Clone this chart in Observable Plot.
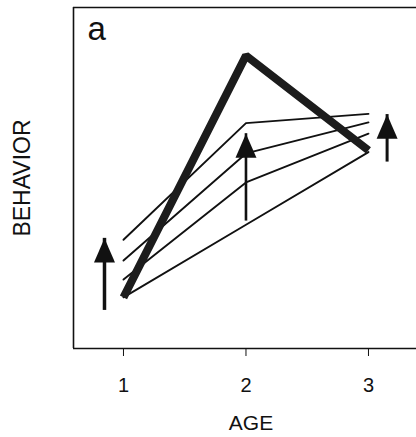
<!DOCTYPE html>
<html>
<head>
<meta charset="utf-8">
<script src="https://cdn.jsdelivr.net/npm/d3@7"></script>
<script src="https://cdn.jsdelivr.net/npm/@observablehq/plot@0.6"></script>
<style>
  html, body { margin: 0; padding: 0; background: #fff; }
  svg { display: block; }
</style>
</head>
<body>
<div id="chart"></div>
<script>
// Ages (x categories)
const ages = [1, 2, 3];
const ageTicks = [1, 2, 3];
const ageTickLabels = ["1", "2", "3"];

// Highlighted trajectory (thick line)
const thickSeries = [15.0, 85.9, 58.1];

// Thin trajectories
const thin1 = [31.9, 66.1, 68.8];
const thin2 = [25.8, 57.2, 66.3];
const thin3 = [20.2, 48.7, 63.0];
const thin4 = [15.0, 36.3, 57.6];

// Arrows: x position, base value, tip value
const arrowX = [0.845, 2, 3.152];
const arrowBase = [14.1, 40.3, 57.6];
const arrowTip = [32.3, 63.0, 68.6];
const arrowShaft = [3.5, 2.6, 3];

// Text
const panelLabel = "a";
const xLabel = "AGE";
const yLabel = "BEHAVIOR";

const thinRows = [];
[thin1, thin2, thin3, thin4].forEach((s, i) =>
  s.forEach((v, j) => thinRows.push({id: i, age: ages[j], value: v})));
const thickRows = thickSeries.map((v, j) => ({age: ages[j], value: v}));
const arrows = arrowX.map((x, i) => ({x, base: arrowBase[i], tip: arrowTip[i], w: arrowShaft[i]}));
const tickRows = ageTicks.map((t, i) => ({t, label: ageTickLabels[i]}));

// Filled arrow head, tip at the anchor point, pointing up
const arrowHead = {
  draw(ctx, size) {
    const k = Math.sqrt(size / Math.PI);
    ctx.moveTo(0, 0);
    ctx.lineTo(-k, 2.3 * k);
    ctx.lineTo(k, 2.3 * k);
    ctx.closePath();
  }
};

const xDomain = [0.592, 3.392];
const yDomain = [0, 100];

const chart = Plot.plot({
  width: 416,
  height: 437,
  marginLeft: 73,
  marginRight: 0,
  marginTop: 7,
  marginBottom: 89,
  style: {fontFamily: "'Liberation Sans', Arial, Helvetica, sans-serif", background: "#fff", color: "#111"},
  x: {domain: xDomain},
  y: {domain: yDomain},
  marks: [
    // frame: left, top, bottom
    Plot.ruleX([xDomain[0]], {stroke: "#111", strokeWidth: 1.6}),
    Plot.ruleY([yDomain[0], yDomain[1]], {stroke: "#111", strokeWidth: 1.6}),
    Plot.axisX({ticks: ageTicks, tickSize: 8, text: null, label: null, stroke: "#111"}),
    Plot.text(tickRows, {x: "t", text: "label", frameAnchor: "bottom", dy: 37, lineAnchor: "middle", fontSize: 20, fill: "#111"}),
    Plot.axisY({ticks: [], label: null}),
    Plot.line(thinRows, {x: "age", y: "value", z: "id", stroke: "#111", strokeWidth: 1.9, strokeLinejoin: "miter"}),
    Plot.line(thickRows, {x: "age", y: "value", stroke: "#1c1c1c", strokeWidth: 8, strokeLinejoin: "miter", strokeLinecap: "butt"}),
    Plot.ruleX(arrows, {x: "x", y1: "base", y2: "tip", strokeWidth: "w", stroke: "#111", insetTop: 10}),
    Plot.dot(arrows, {x: "x", y: "tip", symbol: arrowHead, r: 10.5, fill: "#111", stroke: null}),
    Plot.text([panelLabel], {frameAnchor: "top-left", dx: 14, dy: 9, lineAnchor: "top", textAnchor: "start", fontSize: 33, fill: "#111"}),
    Plot.text([xLabel], {frameAnchor: "bottom", dx: 6, dy: 75, lineAnchor: "middle", fontSize: 21, fill: "#111"}),
    Plot.text([yLabel], {frameAnchor: "left", dx: -51, rotate: -90, textAnchor: "middle", lineAnchor: "middle", fontSize: 23, fill: "#111"})
  ]
});
document.getElementById("chart").appendChild(chart);
</script>
</body>
</html>
